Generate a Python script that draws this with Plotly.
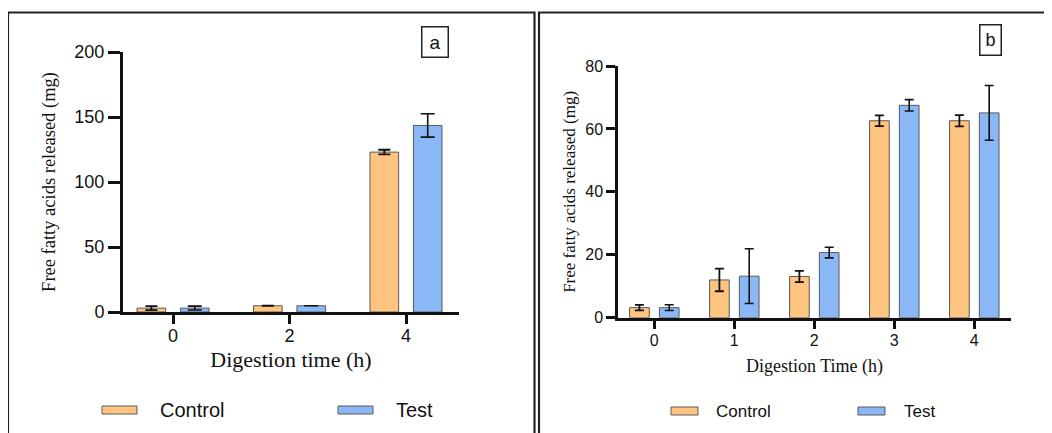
import plotly.graph_objects as go

# ---------------- data ----------------
cats_a = ["0", "2", "4"]
control_a = [3.0, 4.8, 123.0]
control_a_err = [1.5, None, 1.8]
test_a = [3.0, 4.8, 143.5]
test_a_err = [1.5, None, 9.0]

cats_b = ["0", "1", "2", "3", "4"]
control_b = [3.2, 12.0, 13.1, 62.6, 62.6]
control_b_err = [0.9, 3.6, 1.8, 1.7, 1.8]
test_b = [3.2, 13.2, 20.7, 67.5, 65.1]
test_b_err = [0.9, 8.7, 1.7, 1.8, 8.7]

series_names = ["Control", "Test"]
y_ticks_a = [0, 50, 100, 150, 200]
y_ticks_b = [0, 20, 40, 60, 80]

# ---------------- styles ----------------
ORANGE = "#FFC47F"
BLUE = "#8AB8F6"
EDGE = "#5a5a5a"
OFF = 8                     # default page body margin
W, H = 1052 - OFF, 433 - OFF
SANS = "Liberation Sans, Arial, sans-serif"
SERIF = "Liberation Serif, Times New Roman, serif"


def px(x):
    return (x - OFF) / W


def py(y):
    return 1 - (y - OFF) / H


fig = go.Figure()


def add_bar(x, y, err, color, name, xa, ya, cap, thick):
    fig.add_trace(go.Bar(
        x=x, y=y, name=name, xaxis=xa, yaxis=ya, showlegend=False,
        marker=dict(color=color, line=dict(color=EDGE, width=1)),
        error_y=dict(type="data", array=err, visible=True, color="#111",
                     thickness=thick, width=cap),
    ))


add_bar(cats_a, control_a, control_a_err, ORANGE, series_names[0], "x", "y", 6, 1.8)
add_bar(cats_a, test_a, test_a_err, BLUE, series_names[1], "x", "y", 7, 1.6)
add_bar(cats_b, control_b, control_b_err, ORANGE, series_names[0], "x2", "y2", 4.5, 1.8)
add_bar(cats_b, test_b, test_b_err, BLUE, series_names[1], "x2", "y2", 4.5, 1.6)

axis_common = dict(showgrid=False, zeroline=False, showline=True, linecolor="#111",
                   ticks="outside", tickcolor="#111", color="#111", automargin=False)

fig.update_layout(
    template="none",
    width=W, height=H,
    margin=dict(l=0, r=0, t=0, b=0, autoexpand=False),
    paper_bgcolor="white", plot_bgcolor="white",
    barmode="group", bargap=0.255, bargroupgap=0.34,
    showlegend=False,
    xaxis=dict(axis_common, domain=[px(123), px(459)], anchor="y", type="category",
               range=[-0.43, 2.455], linewidth=3, tickwidth=3, ticklen=9,
               tickfont=dict(family=SANS, size=18), ticklabelstandoff=-4,
               title=dict(text="Digestion time (h)", font=dict(family=SERIF, size=22, color="#111"),
                          standoff=8)),
    yaxis=dict(axis_common, domain=[py(312), py(52)], anchor="x", range=[0, 200],
               tickvals=y_ticks_a, linewidth=3, tickwidth=3, ticklen=12,
               tickfont=dict(family=SANS, size=18),
               title=dict(text="Free fatty acids released (mg)",
                          font=dict(family=SERIF, size=18.5, color="#111"), standoff=14)),
    xaxis2=dict(axis_common, domain=[px(618), px(1011)], anchor="y2", type="category",
                range=[-0.454, 4.459], linewidth=2.5, tickwidth=3, ticklen=9,
                tickfont=dict(family=SANS, size=16), ticklabelstandoff=-3,
                title=dict(text="Digestion Time (h)", font=dict(family=SERIF, size=18, color="#111"),
                           standoff=12)),
    yaxis2=dict(axis_common, domain=[py(317.7), py(66)], anchor="x2", range=[0, 80],
                tickvals=y_ticks_b, linewidth=2.5, tickwidth=2.5, ticklen=9,
                tickfont=dict(family=SANS, size=16),
                title=dict(text="Free fatty acids released (mg)",
                           font=dict(family=SERIF, size=17, color="#111"), standoff=6)),
)

shapes = []
annotations = []

# panel frames
shapes.append(dict(type="rect", xref="paper", yref="paper", x0=px(8), x1=px(534.5),
                   y0=py(445), y1=py(12.5), line=dict(color="#222", width=2.2)))
shapes.append(dict(type="rect", xref="paper", yref="paper", x0=px(539), x1=px(1065),
                   y0=py(445), y1=py(12.5), line=dict(color="#222", width=2.2)))

# panel labels
annotations.append(dict(text="a", xref="paper", yref="paper", x=px(434.5), y=py(41.5),
                        showarrow=False, font=dict(family=SANS, size=19, color="#111"),
                        width=23, height=27, bordercolor="#222", borderwidth=1.5, borderpad=1,
                        xanchor="center", yanchor="middle"))
annotations.append(dict(text="b", xref="paper", yref="paper", x=px(990), y=py(40.5),
                        showarrow=False, font=dict(family=SANS, size=18, color="#111"),
                        width=18, height=27, bordercolor="#222", borderwidth=1.5, borderpad=1,
                        xanchor="center", yanchor="middle"))

# legends (custom, wide flat swatches)
legend_specs = [
    # (swatch x0, x1, y0, y1, text x, font size)
    [(102, 137, 406, 414, 158, 20), (338, 373, 406, 414, 394, 20)],
    [(671, 698, 407, 415, 714, 17), (858, 885, 407, 415, 902, 17)],
]
colors = [ORANGE, BLUE]
for panel in legend_specs:
    for i, (x0, x1, y0, y1, tx, fs) in enumerate(panel):
        shapes.append(dict(type="rect", xref="paper", yref="paper", x0=px(x0), x1=px(x1),
                           y0=py(y1), y1=py(y0), fillcolor=colors[i],
                           line=dict(color=EDGE, width=1)))
        annotations.append(dict(text=series_names[i], xref="paper", yref="paper",
                                x=px(tx), y=py((y0 + y1) / 2), xanchor="left", yanchor="middle",
                                showarrow=False, font=dict(family=SANS, size=fs, color="#111")))

fig.update_layout(shapes=shapes, annotations=annotations)

fig.write_html("out.html")
